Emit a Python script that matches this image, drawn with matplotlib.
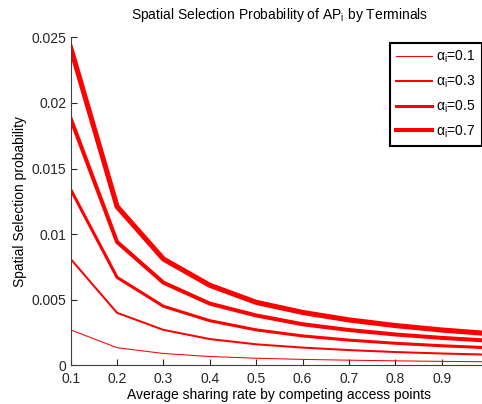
import matplotlib
matplotlib.use("Agg")
import matplotlib.pyplot as plt

plt.rcParams['font.family'] = ['Liberation Sans', 'DejaVu Sans']
plt.rcParams['mathtext.fontset'] = 'custom'
plt.rcParams['mathtext.rm'] = 'Liberation Sans'
plt.rcParams['mathtext.it'] = 'Liberation Sans'
plt.rcParams['mathtext.bf'] = 'Liberation Sans'

# sharing rate
x = [0.1, 0.2, 0.3, 0.4, 0.5, 0.6, 0.7, 0.8, 0.9, 1.0]

# selection probability per alpha_i
p_a01 = [0.0027, 0.00134, 0.00090, 0.00067, 0.00054, 0.00045, 0.00039, 0.00034, 0.00030, 0.00027]
p_a03 = [0.0081, 0.0040, 0.0027, 0.0020, 0.0016, 0.00135, 0.00116, 0.00101, 0.00090, 0.00081]
p_a05 = [0.0134, 0.0067, 0.0045, 0.0034, 0.0027, 0.00224, 0.00192, 0.00168, 0.00149, 0.00134]
p_a07 = [0.0188, 0.0094, 0.0063, 0.0047, 0.0038, 0.00313, 0.00269, 0.00235, 0.00209, 0.00188]
p_a09 = [0.0242, 0.0121, 0.0081, 0.0061, 0.0048, 0.00403, 0.00346, 0.00303, 0.00269, 0.00242]

series = [p_a01, p_a03, p_a05, p_a07, p_a09]
labels = [r'$\alpha_i$=0.1', r'$\alpha_i$=0.3', r'$\alpha_i$=0.5', r'$\alpha_i$=0.7', None]
widths = [0.75, 1.45, 2.2, 2.9, 3.7]

fig = plt.figure(figsize=(4.82, 4.04), dpi=100)
# right edge of axes sits a bit past the image border (x=1.0 is cut off)
ax = fig.add_axes([70.7 / 482, 38.7 / 404, (488 - 70.7) / 482, (365.3 - 37.3) / 404])

for ys, lab, lw in zip(series, labels, widths):
    ax.plot(x, ys, color='red', lw=lw, label=lab)

ax.set_xlim(0.1, 1.0)
ax.set_ylim(0, 0.025)
ax.set_xticks([0.1, 0.2, 0.3, 0.4, 0.5, 0.6, 0.7, 0.8, 0.9])
ax.set_xticklabels(['0.1', '0.2', '0.3', '0.4', '0.5', '0.6', '0.7', '0.8', '0.9'])
ax.set_yticks([0, 0.005, 0.01, 0.015, 0.02, 0.025])
ax.set_yticklabels(['0', '0.005', '0.01', '0.015', '0.02', '0.025'])
ax.tick_params(direction='in', length=4, width=0.8, labelsize=10, colors='#262626', pad=3)
ax.tick_params(axis='x', pad=5)
ax.spines['top'].set_visible(False)
ax.spines['right'].set_visible(False)
ax.spines['left'].set_color('#404040')
ax.spines['bottom'].set_color('#404040')

ax.set_title('Spatial Selection Probability of AP$_i$ by Terminals', fontsize=10, pad=13)
ax.set_xlabel('Average sharing rate by competing access points', fontsize=10, labelpad=1)
ax.set_ylabel('Spatial Selection probability', fontsize=10, labelpad=3)

leg = ax.legend(loc='upper right', bbox_to_anchor=(481.7 / 482, (404 - 42.7) / 404),
                bbox_transform=fig.transFigure, borderaxespad=0, fontsize=10, fancybox=False,
                edgecolor='black', framealpha=1, handlelength=2.6,
                labelspacing=0.6, borderpad=0.45, handletextpad=0.3)
leg.get_frame().set_linewidth(1.5)

fig.savefig('out.png', dpi=100)
